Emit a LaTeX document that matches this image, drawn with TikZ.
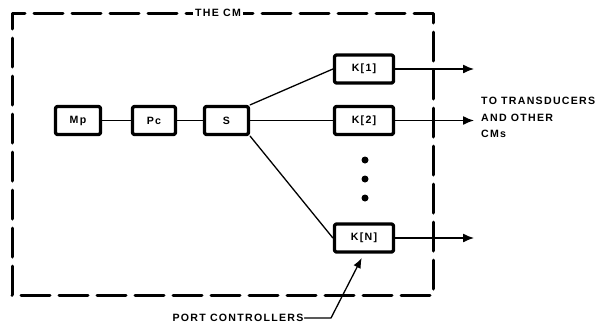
\documentclass[tikz,border=0pt]{standalone}
\usepackage{fontspec}
\newfontfamily\lblfont{Liberation Sans}[LetterSpace=12.0]
\usetikzlibrary{arrows.meta}

\begin{document}
\begin{tikzpicture}[
  x=1pt,y=-1pt,
  line cap=round,
  line join=round,
  lbl/.style={font=\lblfont\bfseries\fontsize{10.6}{16.5}\selectfont,inner sep=1pt},
  blk/.style={lbl,draw=black,line width=3.2pt,rounded corners=1.5pt,
    minimum height=28pt},
  link/.style={draw=black,line width=1.3pt},
  outarr/.style={draw=black,line width=1.3pt,-{Latex[length=11pt,width=9pt]}},
  border/.style={draw=black,line width=3pt,dash pattern=on 29pt off 9pt}
]
\useasboundingbox (0,0) rectangle (608,325);

% the CM boundary
\draw[border] (12,295) -- (12,13) -- (433,13) -- (433,295) -- cycle;
\node[lbl,fill=white,inner xsep=2pt] (cm) at (218,13) {THE CM};

% processor chain
\node[blk,minimum width=45pt] (mp) at (78,120.5) {Mp};
\node[blk,minimum width=43pt] (pc) at (154,120.5) {Pc};
\node[blk,minimum width=44pt] (s)  at (226.5,120.5) {S};

% port controllers
\node[blk,minimum width=59pt] (k1) at (364,69)    {K[1]};
\node[blk,minimum width=59pt] (k2) at (364,120.5) {K[2]};
\node[blk,minimum width=59pt] (kn) at (364,238)   {K[N]};

\foreach \y in {160,179,198}
  \fill (365,\y) circle [radius=3.5];

\draw[link] (mp) -- (pc);
\draw[link] (pc) -- (s);
\draw[link] (s.north east) -- (k1.west);
\draw[link] (s) -- (k2);
\draw[link] (s.south east) -- (kn.west);

% links leaving the CM
\coordinate (t1) at (474,69);
\coordinate (t2) at (474,120.5);
\coordinate (tn) at (474,238);
\draw[outarr] (k1) -- (t1);
\draw[outarr] (k2) -- (t2);
\draw[outarr] (kn) -- (tn);

\node[lbl,anchor=north west,align=left] (dest) at (480,96)
  {TO TRANSDUCERS\\AND OTHER\\CMs};

% callout
\node[lbl] (ports) at (238,318) {PORT CONTROLLERS};
\coordinate (bend) at (331,318);
\draw[link,-{Latex[length=10pt,width=8pt]},shorten >=5pt]
  (ports.east) -- (bend) -- (kn.south);

\end{tikzpicture}
\end{document}
